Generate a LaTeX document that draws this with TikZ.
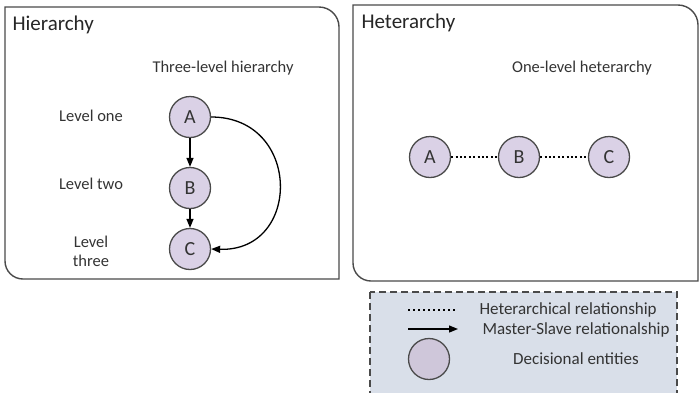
\documentclass[tikz,border=0pt]{standalone}
\usepackage{fontspec}
\setmainfont{Carlito}
\usetikzlibrary{arrows.meta}
\definecolor{ent}{HTML}{DAD1E6}
\definecolor{legbg}{HTML}{D9DFE9}
\definecolor{edge}{HTML}{4A4A4A}
\definecolor{txt}{HTML}{333333}
\tikzset{
  entity/.style={circle, draw=edge, line width=1.3pt, fill=ent, minimum size=41pt, inner sep=0pt, font=\fontsize{20}{22}\selectfont, text=txt},
  panel/.style={draw=edge, line width=1.4pt},
  title/.style={anchor=west, font=\fontsize{21}{23}\selectfont, text=black!85},
  lbl/.style={font=\fontsize{16.5}{19}\selectfont, text=txt, align=center},
  leg/.style={font=\fontsize{17}{19}\selectfont, text=txt, align=center},
  ms/.style={-{Triangle[length=9pt,width=7pt]}, line width=1.3pt, black},
  het/.style={line width=1.4pt, dash pattern=on 2pt off 2.4pt, black},
}
\begin{document}
\begin{tikzpicture}[x=1pt,y=-1pt]
\useasboundingbox (0,0) rectangle (700,392);
% panels
\draw[panel] (5,7) -- (319,7) .. controls (330,7) and (339,16) .. (339,27)
  -- (339,279) -- (23,279) .. controls (13,279) and (5,271) .. (5,261) -- cycle;
\draw[panel] (353,5) -- (678,5) .. controls (689,5) and (698,14) .. (698,25)
  -- (698,281) -- (371,281) .. controls (361,281) and (353,273) .. (353,263) -- cycle;
% legend
\draw[draw=edge, line width=1.3pt, fill=legbg, dash pattern=on 7pt off 4pt] (370,292) rectangle (677,400);

% left panel
\node[title] (t1) at (9,25) {Hierarchy};
\node[lbl] (sub1) at (223,68) {Three-level hierarchy};
\node[lbl] (l1) at (91,116) {Level one};
\node[lbl] (l2) at (91,184) {Level two};
\node[lbl, text width=60pt] (l3) at (91,251) {Level\\three};
\node[entity] (A1) at (190,117) {A};
\node[entity] (B1) at (190,188) {B};
\node[entity] (C1) at (190,249) {C};
\draw[ms] (A1) -- (B1);
\draw[ms] (B1) -- (C1);
\draw[ms] (A1.east) .. controls (302,117) and (302,252) .. (C1.east);

% right panel
\node[title] (t2) at (358,23) {Heterarchy};
\node[lbl] (sub2) at (582,68) {One-level heterarchy};
\node[entity] (A2) at (430,157) {A};
\node[entity] (B2) at (519,157) {B};
\node[entity] (C2) at (609,157) {C};
\draw[het] (A2) -- (B2);
\draw[het] (B2) -- (C2);

% legend content
\coordinate (d1) at (408,310);
\coordinate (d2) at (457,310);
\draw[het, dash pattern=on 2pt off 3pt] (d1) -- (d2);
\node[leg, anchor=west] (lt1) at (476,310) {Heterarchical relationship};
\coordinate (m1) at (408,329);
\coordinate (m2) at (458,329);
\draw[ms] (m1) -- (m2);
\node[leg, anchor=west] (lt2) at (479,330) {Master-Slave relationalship};
\node[entity, minimum size=41pt, fill=ent!95!black] (E) at (429,359) {};
\node[leg] (lt3) at (576,359) {Decisional entities};
\end{tikzpicture}
\end{document}
